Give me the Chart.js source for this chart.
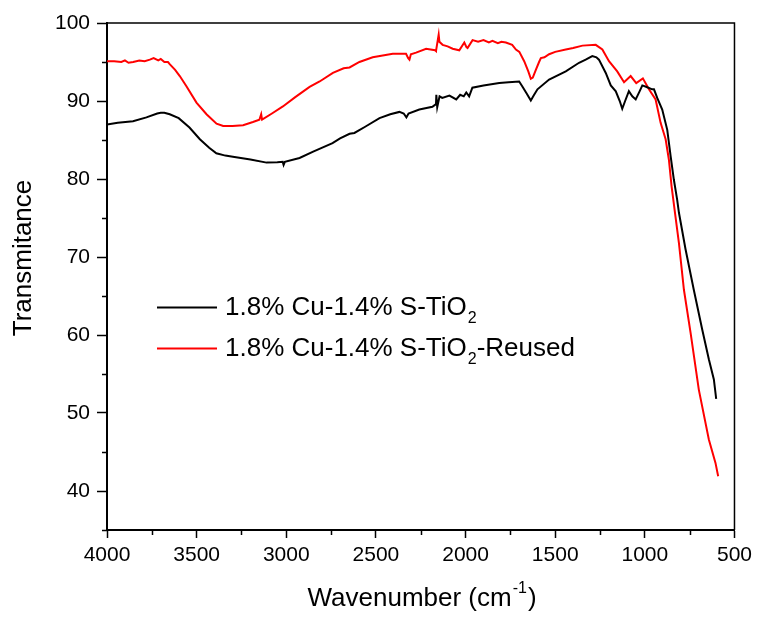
<!DOCTYPE html>
<html>
<head>
<meta charset="utf-8">
<script src="https://cdn.jsdelivr.net/npm/chart.js@4/dist/chart.umd.min.js"></script>
<style>
  html, body { margin: 0; padding: 0; background: #fff; }
  #wrap { width: 757px; height: 617px; position: relative; }
</style>
</head>
<body>
<div id="wrap"><canvas id="c" width="757" height="617"></canvas></div>
<script>
// ---- Data ----
const wnBlack = [4000,3940,3855,3780,3720,3700,3680,3650,3600,3540,3482,3430,3390,3340,3298,3200,3110,3050,3020,3015,3008,2926,2850,2742,2700,2647,2620,2560,2480,2420,2369,2345,2330,2318,2258,2185,2165,2163,2158,2145,2130,2090,2052,2030,2010,1996,1980,1962,1900,1812,1760,1701,1684,1660,1636,1620,1599,1534,1441,1367,1330,1293,1270,1256,1218,1190,1162,1140,1126,1110,1089,1070,1051,1030,1014,990,959,949,931,903,875,856,838,820,810,773,727,680,643,615,602];
const tBlack = [87.0,87.2,87.4,87.9,88.4,88.5,88.5,88.3,87.8,86.6,85.1,84.0,83.3,83.0,82.85,82.5,82.1,82.15,82.2,81.8,82.2,82.7,83.5,84.6,85.2,85.8,85.9,86.7,87.8,88.3,88.6,88.4,87.9,88.4,88.9,89.25,89.6,90.8,89.2,90.6,90.4,90.7,90.2,90.8,90.6,91.1,90.6,91.7,92.0,92.3,92.4,92.5,91.9,91.0,90.06,90.7,91.5,92.75,93.8,94.9,95.3,95.75,95.6,95.3,93.6,92.0,91.25,90.0,89.0,90.0,91.25,90.6,90.2,91.2,92.0,91.8,91.5,91.5,90.4,88.9,86.3,82.9,79.9,77.4,75.7,71.0,65.8,60.7,56.9,54.3,51.8];

const wnRed = [4000,3960,3920,3900,3880,3854,3820,3790,3761,3740,3714,3700,3680,3660,3649,3620,3594,3557,3501,3445,3389,3352,3300,3241,3186,3150,3140,3135,3080,3019,2950,2870,2814,2740,2680,2647,2592,2518,2406,2332,2320,2313,2305,2276,2220,2170,2165,2150,2146,2128,2100,2072,2035,2007,1995,1989,1961,1930,1900,1870,1850,1820,1800,1775,1740,1719,1700,1673,1650,1636,1625,1608,1590,1580,1560,1534,1500,1441,1400,1348,1274,1237,1200,1154,1116,1079,1048,1011,977,940,912,884,866,851,832,810,782,745,699,643,606,591];
const tRed = [95.1,95.1,95.0,95.2,94.9,95.0,95.2,95.1,95.3,95.5,95.2,95.4,95.0,95.0,94.7,94.0,93.2,91.9,89.8,88.3,87.1,86.8,86.8,86.9,87.3,87.6,88.3,87.6,88.4,89.3,90.5,91.8,92.5,93.6,94.2,94.3,95.0,95.6,96.05,96.05,95.5,95.3,96.0,96.2,96.7,96.5,96.4,98.5,97.6,97.2,97.0,96.7,96.5,97.5,96.9,96.8,97.8,97.6,97.8,97.5,97.7,97.4,97.6,97.5,97.2,96.6,96.3,95.1,93.8,92.85,93.0,94.0,95.0,95.5,95.6,96.0,96.3,96.6,96.8,97.1,97.2,96.6,95.1,93.8,92.4,93.2,92.3,92.9,91.5,90.2,87.2,85.1,82.5,79.1,75.7,71.8,65.8,60.3,53.0,46.6,43.6,41.9];

const xMajorTicks = [4000,3500,3000,2500,2000,1500,1000,500];
const xMinorTicks = [3750,3250,2750,2250,1750,1250,750];
const yMajorTicks = [40,50,60,70,80,90,100];
const yMinorTicks = [35,45,55,65,75,85,95];

const legendMain = ['1.8% Cu-1.4% S-TiO', '1.8% Cu-1.4% S-TiO'];
const legendSub = ['2', '2'];
const legendTail = ['', '-Reused'];
const seriesColors = ['#000000', '#ff0000'];
const yTitle = 'Transmitance';
const xTitleMain = 'Wavenumber (cm';
const xTitleSup = '-1';
const xTitleTail = ')';

const FONT = '"Liberation Sans", Arial, sans-serif';

function toPoints(xs, ys) { return xs.map((x, i) => ({x: x, y: ys[i]})); }

const framePlugin = {
  id: 'frameAndMinor',
  afterDraw(chart) {
    const ctx = chart.ctx, a = chart.chartArea;
    const xs = chart.scales.x, ys = chart.scales.y;
    ctx.save();
    ctx.strokeStyle = '#000';
    // top & right frame
    ctx.lineWidth = 1.5;
    ctx.beginPath();
    ctx.moveTo(a.left, a.top); ctx.lineTo(a.right, a.top); ctx.lineTo(a.right, a.bottom);
    ctx.stroke();
    // minor ticks
    ctx.beginPath();
    xMinorTicks.forEach(v => {
      const px = Math.round(xs.getPixelForValue(v)) + 0.5;
      ctx.moveTo(px, a.bottom); ctx.lineTo(px, a.bottom + 5);
    });
    yMinorTicks.forEach(v => {
      const py = Math.round(ys.getPixelForValue(v)) + 0.5;
      ctx.moveTo(a.left, py); ctx.lineTo(a.left - 5, py);
    });
    ctx.stroke();
    // legend
    const lx0 = 157, lx1 = 217, tx = 225;
    const rows = [307.5, 348.5];
    ctx.textBaseline = 'middle';
    ctx.textAlign = 'left';
    rows.forEach((y, i) => {
      ctx.strokeStyle = seriesColors[i];
      ctx.lineWidth = 2;
      ctx.beginPath(); ctx.moveTo(lx0, y); ctx.lineTo(lx1, y); ctx.stroke();
      ctx.fillStyle = '#000';
      ctx.font = '26px ' + FONT;
      let x = tx;
      ctx.fillText(legendMain[i], x, y);
      x += ctx.measureText(legendMain[i]).width + 1;
      ctx.font = '16px ' + FONT;
      ctx.fillText(legendSub[i], x, y + 11);
      x += ctx.measureText(legendSub[i]).width;
      ctx.font = '26px ' + FONT;
      if (legendTail[i]) ctx.fillText(legendTail[i], x, y);
    });
    // y axis title
    ctx.fillStyle = '#000';
    ctx.font = '26px ' + FONT;
    ctx.save();
    ctx.translate(24, 258);
    ctx.rotate(-Math.PI / 2);
    ctx.textAlign = 'center';
    ctx.textBaseline = 'middle';
    ctx.fillText(yTitle, 0, 0);
    ctx.restore();
    // x axis title with superscript
    const wMain = (ctx.font = '26px ' + FONT, ctx.measureText(xTitleMain).width);
    ctx.font = '16px ' + FONT;
    const wSup = ctx.measureText(xTitleSup).width;
    ctx.font = '26px ' + FONT;
    const wTail = ctx.measureText(xTitleTail).width;
    const total = wMain + wSup + wTail + 2;
    let xx = 422 - total / 2;
    const yy = 599;
    ctx.textAlign = 'left';
    ctx.textBaseline = 'middle';
    ctx.fillText(xTitleMain, xx, yy);
    xx += wMain + 1;
    ctx.font = '16px ' + FONT;
    ctx.fillText(xTitleSup, xx, yy - 10);
    xx += wSup + 1;
    ctx.font = '26px ' + FONT;
    ctx.fillText(xTitleTail, xx, yy);
    ctx.restore();
  }
};

new Chart(document.getElementById('c'), {
  type: 'line',
  data: {
    datasets: [
      { label: '1.8% Cu-1.4% S-TiO₂', data: toPoints(wnBlack, tBlack), borderColor: seriesColors[0], borderWidth: 2, pointRadius: 0, tension: 0, fill: false },
      { label: '1.8% Cu-1.4% S-TiO₂-Reused', data: toPoints(wnRed, tRed), borderColor: seriesColors[1], borderWidth: 2, pointRadius: 0, tension: 0, fill: false }
    ]
  },
  options: {
    responsive: false,
    animation: false,
    layout: { padding: { left: 0, right: 21, top: 23, bottom: 0 } },
    plugins: { legend: { display: false }, tooltip: { enabled: false } },
    scales: {
      x: {
        type: 'linear', reverse: true, min: 500, max: 4000,
        afterBuildTicks(s) { s.ticks = xMajorTicks.map(v => ({value: v})); },
        afterFit(s) { s.height = 87; },
        grid: { display: true, drawOnChartArea: false, drawTicks: true, tickLength: 8, tickColor: '#000', tickWidth: 1.5 },
        border: { display: true, color: '#000', width: 2 },
        ticks: { color: '#000', font: { family: FONT, size: 21 }, padding: 5, maxRotation: 0, autoSkip: false, callback: v => String(v) },
        title: { display: false }
      },
      y: {
        type: 'linear', min: 35, max: 100,
        afterBuildTicks(s) { s.ticks = yMajorTicks.map(v => ({value: v})); },
        afterFit(s) { s.width = 107; },
        grid: { display: true, drawOnChartArea: false, drawTicks: true, tickLength: 10, tickColor: '#000', tickWidth: 1.5 },
        border: { display: true, color: '#000', width: 2 },
        ticks: { color: '#000', font: { family: FONT, size: 21 }, padding: 7, autoSkip: false, callback: v => String(v) },
        title: { display: false }
      }
    }
  },
  plugins: [framePlugin]
});
</script>
</body>
</html>
